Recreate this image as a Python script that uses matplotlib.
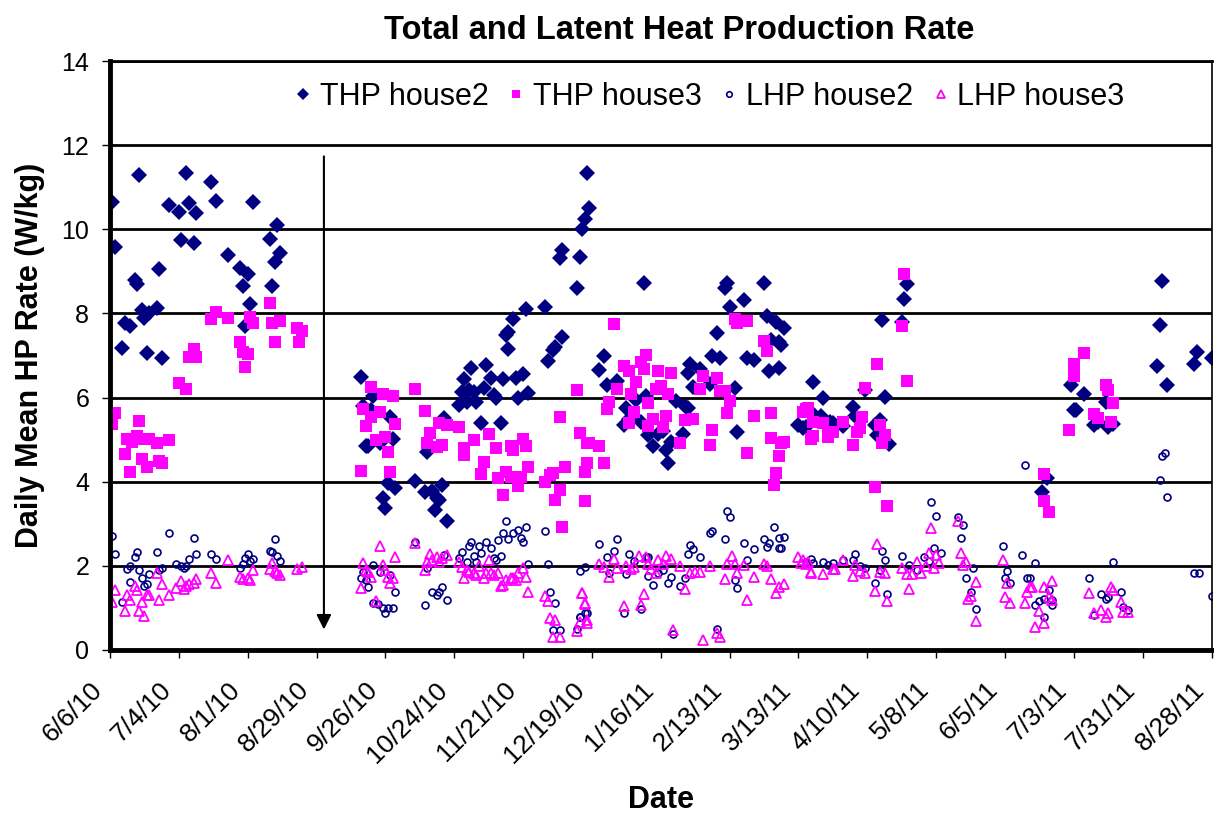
#importing necessary libraries
import numpy as np
import matplotlib
matplotlib.use('Agg')
import matplotlib.pyplot as plt
import matplotlib.transforms as mtransforms

plt.rcParams['font.family'] = ['Liberation Sans', 'DejaVu Sans']

#days counted from 6/6/10 (W/kg)
thp2_day = [1, 2, 12, 10, 11, 20, 6, 8, 5, 13, 14, 16, 19, 15, 21, 24, 28, 31, 32, 35, 29, 34, 41, 43, 48, 53, 56, 54, 58, 57, 55, 65, 68, 69, 67, 66,
            102, 107, 103, 106, 114, 104, 105, 110, 115, 113, 116, 111, 112, 124, 128, 131, 133, 134, 132, 135, 137, 136, 129, 142, 144, 145, 143, 147, 146, 148, 149, 151, 152, 153, 155, 156, 157, 159, 160, 161, 162, 162, 164, 165, 168, 166, 170, 169, 177, 178, 180, 181, 184, 190,
            194, 195, 193, 192, 184, 183, 191, 217, 201, 199, 202, 206, 210, 209, 211, 216, 214, 218, 219, 221, 223, 225, 226, 227, 228, 230, 233, 234, 235, 235, 236, 237, 240, 244, 245, 248, 247, 254, 255, 250, 251, 252, 258, 259, 262, 266, 267, 271, 269, 272, 273, 268, 272, 274, 286, 280, 283,
            290, 302, 303, 282, 285, 289, 293, 294, 298, 307, 311, 313, 312, 317, 315, 314, 322, 323, 324,
            379, 381, 391, 396, 392, 393, 400, 402, 405, 406, 408, 428, 427, 426, 430, 442, 441, 448]
thp2_val = [10.66, 9.59, 11.29, 8.79, 8.70, 9.05, 7.77, 7.70, 7.17, 8.08, 7.88, 8.00, 8.12, 7.07, 6.93, 10.58, 10.40, 11.33, 10.62, 10.38, 9.75, 9.67, 11.13, 10.68, 9.39, 9.09, 8.93, 8.65, 10.64, 8.22, 7.69, 9.76, 10.10, 9.43, 9.22, 8.65,
            6.50, 6.04, 5.80, 5.70, 5.55, 4.86, 4.86, 4.91, 5.01, 3.98, 3.84, 3.61, 3.37, 4.02, 3.76, 3.78, 3.61, 3.57, 3.33, 3.92, 3.07, 5.52, 4.71, 5.82, 6.44, 5.90, 6.14, 6.70, 6.18, 6.14, 5.90, 5.40, 6.22, 6.77, 6.47, 6.05, 5.98, 5.39, 6.43, 7.49, 7.57, 7.15, 7.87, 6.47, 6.55, 5.98, 6.10, 8.11, 8.16, 6.87, 7.13, 7.21, 7.45, 8.60,
            11.33, 10.50, 10.24, 10.00, 9.51, 9.31, 9.33, 8.72, 6.99, 6.66, 6.31, 6.40, 5.75, 5.35, 5.48, 5.43, 5.94, 6.04, 5.11, 4.85, 5.13, 5.21, 4.75, 4.45, 4.95, 5.93, 5.13, 5.80, 5.75, 6.58, 6.80, 6.26, 6.67, 6.33, 6.99, 6.93, 7.53, 6.22, 5.19, 8.60, 8.73, 8.16, 8.32, 6.93, 6.89, 8.72, 7.94, 7.80, 7.37, 7.33, 7.25, 6.63, 6.71, 7.65, 6.38, 5.35, 5.31,
            5.98, 5.78, 5.57, 5.27, 5.65, 5.57, 5.43, 5.39, 5.33, 6.18, 5.35, 5.46, 5.12, 4.89, 6.02, 7.84, 7.80, 8.34, 8.70,
            3.76, 4.10, 6.30, 6.08, 5.70, 5.70, 5.35, 5.43, 5.90, 5.31, 5.37, 8.78, 7.73, 6.76, 6.30, 7.09, 6.80, 6.93]

thp3_day = [1, 2, 6, 8, 7, 9, 11, 12, 13, 15, 14, 16, 19, 20, 21, 24, 28, 31, 32, 34, 35, 41, 43, 48, 53, 54, 56, 55, 57, 58, 65, 66, 69, 67, 76, 78, 77,
            106, 111, 115, 124, 128, 103, 104, 106, 110, 116, 108, 112, 113, 102, 114, 130, 129, 134, 137, 135, 133, 142, 144, 144, 148, 152, 151, 154, 157, 158, 160, 163, 164, 161, 163, 166, 167, 168, 169, 170, 177, 179, 180, 181, 183, 184, 185, 190, 191, 193, 193, 194,
            205, 183, 195, 199, 194, 201, 209, 211, 216, 218, 217, 203, 206, 202, 214, 212, 213, 219, 223, 222, 224, 227, 228, 211, 219, 221, 226, 225, 232, 234, 237, 241, 240, 247, 248, 250, 252, 251, 245, 244, 254, 255, 259, 262, 259, 266, 267, 269, 269, 272, 271, 270, 273, 274, 282, 284, 286, 286,
            283, 284, 285, 290, 292, 292, 294, 298, 302, 304, 305, 306, 307, 312, 313, 315, 314, 311, 316, 322, 323, 324,
            380, 380, 382, 390, 392, 392, 396, 400, 402, 405, 406, 408, 407]
thp3_val = [5.37, 5.63, 4.66, 4.24, 5.01, 4.95, 5.09, 5.44, 4.53, 4.36, 5.01, 5.01, 4.91, 4.50, 4.45, 4.98, 6.34, 6.20, 6.96, 7.15, 6.97, 7.87, 8.04, 7.88, 7.33, 7.09, 7.04, 6.73, 7.92, 7.78, 8.26, 7.77, 7.83, 7.33, 7.65, 7.58, 7.33,
            6.26, 6.08, 6.04, 6.20, 5.68, 5.72, 5.32, 5.55, 5.66, 5.37, 4.99, 5.07, 4.71, 4.25, 4.24, 5.15, 4.91, 5.39, 5.35, 4.87, 4.83, 5.31, 4.79, 4.63, 4.99, 4.48, 4.18, 5.13, 4.79, 4.10, 3.68, 4.86, 4.75, 4.22, 4.12, 3.90, 4.12, 5.01, 4.86, 4.36, 4.00, 4.16, 4.21, 3.57, 3.80, 2.92, 4.36, 6.18, 5.15, 4.22, 3.53, 4.93,
            7.75, 5.54, 4.93, 4.85, 4.45, 4.45, 6.75, 6.63, 6.85, 7.01, 6.69, 5.90, 6.20, 5.73, 6.38, 6.08, 5.66, 5.88, 6.63, 6.20, 6.28, 6.08, 6.58, 5.39, 5.33, 5.48, 5.56, 5.31, 4.91, 5.47, 5.48, 6.52, 6.20, 6.46, 6.16, 6.16, 5.93, 5.64, 5.23, 4.87, 7.87, 7.77, 7.83, 5.56, 4.68, 7.35, 7.11, 5.64, 5.05, 4.60, 4.20, 3.92, 4.93, 4.95, 5.66, 5.75, 5.41, 5.08,
            5.72, 5.70, 5.01, 5.39, 5.19, 5.07, 5.19, 5.41, 4.87, 5.19, 5.27, 5.55, 6.22, 6.81, 5.35, 5.10, 4.92, 3.88, 3.43, 7.70, 8.94, 6.40,
            4.18, 3.53, 3.29, 5.24, 6.80, 6.51, 7.07, 5.60, 5.51, 6.30, 6.19, 5.88, 5.42]

lhp2_day = [1, 2, 7, 8, 8, 5, 10, 11, 12, 13, 14, 15, 16, 19, 21, 20, 24, 27, 29, 30, 31, 32, 34, 35, 41, 43, 53, 54, 55, 56, 57, 58, 65, 66, 67, 68, 69,
            103, 102, 104, 105, 107, 110, 107, 109, 111, 112, 113, 115, 116, 114, 124, 128, 129, 131, 133, 134, 135, 137, 136, 142, 143, 145, 146, 147, 148, 149, 150, 151, 153, 155, 156, 157, 159, 158, 160, 161, 162, 164, 166, 167, 168, 169, 170, 177, 178, 179, 181, 180, 183, 190, 191, 193, 191, 193,
            199, 206, 205, 202, 203, 211, 213, 218, 219, 210, 219, 221, 223, 225, 228, 227, 216, 209, 194, 191, 229, 232, 234, 235, 236, 237, 240, 244, 245, 247, 250, 251, 252, 254, 255, 258, 259, 262, 266, 267, 268, 270, 272, 272, 273, 274, 285, 283, 286,
            372, 334, 336, 345, 347, 346, 363, 371, 335, 338, 331, 322, 314, 315, 303, 302, 298, 294, 290, 292, 305, 307, 313, 311, 316, 325, 328, 333, 351, 348, 350, 352, 364, 365, 366, 373,
            376, 408, 374, 382, 378, 376, 380, 380, 383, 383, 398, 400, 403, 405, 406, 411, 412, 414, 428, 429, 427, 430, 441, 443, 448]
lhp2_val = [2.72, 2.28, 1.92, 2.00, 1.61, 1.15, 2.22, 2.34, 1.89, 1.72, 1.52, 1.56, 1.80, 2.34, 1.94, 1.90, 2.77, 2.04, 2.00, 1.94, 2.00, 2.16, 2.66, 2.28, 2.28, 2.16, 1.94, 2.04, 2.18, 2.27, 2.11, 2.16, 2.36, 2.32, 2.63, 2.23, 2.12,
            1.86, 1.72, 1.66, 1.49, 2.02, 1.85, 1.12, 1.09, 0.99, 0.89, 0.99, 0.99, 1.37, 1.78, 2.56, 1.07, 1.94, 1.39, 1.31, 1.39, 1.50, 1.19, 2.26, 2.18, 2.34, 2.10, 2.46, 2.56, 2.23, 2.08, 2.46, 2.30, 2.57, 2.43, 2.18, 2.14, 2.23, 2.61, 2.77, 3.07, 2.63, 2.77, 2.85, 2.66, 2.56, 2.93, 2.04, 2.84, 2.04, 1.37, 1.11, 0.48, 0.48, 0.49, 1.88, 1.97, 0.79, 0.89,
            2.52, 2.64, 2.35, 2.22, 1.82, 2.28, 2.12, 2.20, 2.22, 1.80, 1.76, 1.55, 1.82, 1.90, 1.73, 1.60, 0.97, 0.89, 0.88, 0.78, 0.38, 1.51, 1.72, 2.29, 2.49, 2.39, 2.20, 2.77, 2.83, 0.50, 2.63, 3.31, 3.17, 1.67, 1.47, 2.54, 2.13, 2.41, 2.65, 2.45, 2.54, 2.92, 2.66, 2.43, 2.42, 2.68, 2.17, 2.10, 2.07,
            4.40, 3.51, 3.19, 3.17, 2.96, 2.67, 2.46, 2.26, 2.43, 2.30, 2.20, 2.24, 2.36, 2.14, 2.28, 2.14, 2.14, 2.06, 2.08, 2.02, 2.00, 1.95, 1.89, 1.59, 1.32, 2.02, 1.90, 2.12, 1.95, 1.71, 1.37, 0.98, 1.71, 1.88, 1.60, 1.70,
            2.07, 2.08, 1.71, 1.43, 1.17, 1.06, 0.79, 1.20, 1.06, 1.18, 1.72, 0.83, 1.32, 1.20, 1.26, 1.37, 1.03, 0.95, 4.60, 4.68, 4.04, 3.64, 1.82, 1.84, 1.29]

lhp3_day = [1, 2, 6, 7, 8, 10, 11, 12, 13, 14, 15, 16, 19, 20, 21, 24, 27, 29, 30, 31, 32, 34, 35, 41, 43, 48, 53, 54, 56, 57, 58, 65, 66, 67, 68, 69, 76, 78,
            103, 102, 104, 105, 106, 110, 111, 112, 113, 114, 115, 116, 108, 124, 128, 130, 129, 131, 133, 134, 135, 137, 142, 143, 144, 145, 146, 148, 149, 150, 152, 153, 154, 155, 156, 158, 159, 160, 161, 163, 164, 165, 166, 168, 169, 170, 177, 178, 179, 181, 180, 183, 190, 191, 192, 193, 194,
            199, 201, 203, 205, 206, 210, 212, 213, 215, 218, 219, 220, 222, 223, 225, 226, 228, 232, 234, 236, 238, 240, 244, 250, 251, 253, 254, 255, 258, 259, 262, 266, 267, 269, 271, 272, 274, 192, 193, 194, 209, 216, 217, 229, 241, 247, 248, 281, 283, 285,
            280, 282, 284, 285, 290, 294, 295, 302, 303, 305, 307, 298, 312, 311, 313, 315, 316, 322, 324, 326, 325, 328, 330, 332, 333, 335, 334, 336, 337, 345, 346, 347, 348, 352, 350, 349, 352, 363, 364, 365, 366, 372, 373,
            374, 375, 378, 376, 380, 380, 382, 383, 383, 398, 400, 403, 405, 406, 407, 408, 411, 412, 414]
lhp3_val = [1.15, 1.43, 0.93, 1.31, 1.19, 1.51, 1.43, 0.93, 1.15, 0.81, 1.31, 1.31, 1.84, 1.19, 1.56, 1.31, 1.48, 1.65, 1.46, 1.51, 1.58, 1.59, 1.68, 1.84, 1.59, 2.14, 1.73, 1.68, 1.70, 1.66, 1.90, 1.92, 2.06, 1.87, 1.83, 1.79, 1.92, 1.97,
            2.06, 1.47, 1.90, 1.86, 1.74, 2.46, 2.02, 1.90, 1.74, 1.59, 1.71, 2.20, 1.16, 2.54, 1.90, 2.28, 2.08, 2.14, 2.22, 2.10, 2.18, 2.26, 2.08, 1.97, 1.70, 1.90, 1.86, 1.84, 1.78, 2.00, 1.70, 1.82, 2.14, 1.82, 1.78, 1.82, 1.52, 1.54, 1.66, 1.70, 1.70, 1.66, 1.82, 1.94, 1.74, 1.39, 1.28, 1.17, 0.75, 0.71, 0.30, 0.30, 0.44, 0.67, 1.35, 1.11, 0.71,
            2.04, 1.98, 1.73, 2.16, 1.96, 2.00, 1.92, 1.98, 2.24, 2.20, 2.04, 1.92, 1.84, 2.14, 2.04, 2.24, 2.16, 2.00, 1.45, 1.82, 1.86, 1.86, 2.00, 1.68, 2.04, 2.24, 2.04, 1.82, 2.02, 1.19, 1.73, 2.05, 2.00, 1.68, 1.36, 1.50, 1.58, 1.36, 1.10, 0.64, 1.05, 1.07, 1.33, 0.48, 0.24, 0.41, 0.30, 2.07, 2.04, 1.82,
            2.20, 2.15, 2.10, 1.85, 1.80, 1.93, 1.93, 1.76, 2.02, 1.88, 1.84, 2.14, 2.52, 1.41, 1.86, 1.84, 1.17, 1.94, 1.80, 1.80, 1.44, 2.10, 1.84, 2.00, 2.30, 1.94, 2.89, 2.26, 2.06, 3.07, 2.31, 2.02, 2.10, 1.61, 1.29, 1.20, 0.70, 2.15, 1.27, 1.60, 1.11, 1.12, 1.38,
            1.50, 1.50, 0.93, 0.55, 0.65, 1.50, 1.26, 1.18, 1.64, 1.35, 0.87, 0.95, 0.79, 0.89, 1.50, 1.43, 1.13, 0.91, 0.91]

start = np.datetime64('2010-06-06')
def to_dates(days):
	return start + np.array(days).astype('timedelta64[D]')

tick_dates = start + np.arange(0, 449, 28).astype('timedelta64[D]')
tick_labels = ['6/6/10', '7/4/10', '8/1/10', '8/29/10', '9/26/10', '10/24/10', '11/21/10', '12/19/10',
               '1/16/11', '2/13/11', '3/13/11', '4/10/11', '5/8/11', '6/5/11', '7/3/11', '7/31/11', '8/28/11']

navy = '#000080'
pink = '#FF00FF'

fig = plt.figure(figsize=(12.14, 8.14), dpi=100)
ax = fig.add_axes([0.0906, 0.2015, 0.9074, 0.7235])

ax.plot(to_dates(thp2_day), thp2_val, 'D', color=navy, ms=8.5, mew=0, label='THP house2')
ax.plot(to_dates(thp3_day), thp3_val, 's', color=pink, ms=9, mew=0, label='THP house3')
ax.plot(to_dates(lhp2_day), lhp2_val, 'o', mfc='none', mec=navy, ms=5, mew=1.2, label='LHP house2')
ax.plot(to_dates(lhp3_day), lhp3_val, '^', mfc='none', mec=pink, ms=7, mew=1.3, label='LHP house3')

#arrow marking the gap between the two periods
ax.annotate('', xy=(start + np.timedelta64(87, 'D'), 0.42), xytext=(start + np.timedelta64(87, 'D'), 11.8),
            arrowprops=dict(arrowstyle='-|>', color='black', lw=1.5, mutation_scale=22))

ax.set_ylim(0, 14)
ax.set_yticks(np.arange(0, 15, 2))
ax.set_xlim(tick_dates[0], tick_dates[-1])
ax.set_xticks(tick_dates)
ax.set_xticklabels(tick_labels, rotation=45, ha='right', va='center', rotation_mode='anchor')
ax.tick_params(axis='y', labelsize=18, direction='out', length=6, width=1, pad=9)
ax.tick_params(axis='x', labelsize=19, direction='out', length=6, width=1, pad=20)
shift = mtransforms.ScaledTranslation(-8 / 72, 0, fig.dpi_scale_trans)
for lab in ax.get_xticklabels():
	lab.set_transform(lab.get_transform() + shift)
ax.yaxis.grid(True, color='black', lw=2)
ax.set_axisbelow(True)
for s in ['left', 'bottom']:
	ax.spines[s].set_linewidth(3.5)
ax.spines['right'].set_linewidth(1.2)
ax.spines['top'].set_linewidth(2)

ax.set_title('Total and Latent Heat Production Rate', fontsize=23.5, fontweight='bold', pad=16, x=0.517)
ax.set_ylabel('Daily Mean HP Rate (W/kg)', fontsize=22, fontweight='bold', labelpad=12)
ax.set_xlabel('Date', fontsize=22, fontweight='bold', labelpad=13)

leg = ax.legend(loc='center', bbox_to_anchor=(0.544, 0.939), ncol=4, frameon=False, fontsize=22,
                handletextpad=0.25, columnspacing=0.6, handlelength=0.6, borderaxespad=0)
for h, ms in zip(leg.legend_handles, [6, 6, 4, 5.5]):
	h.set_markersize(ms)

fig.savefig('out.png', dpi=100)
